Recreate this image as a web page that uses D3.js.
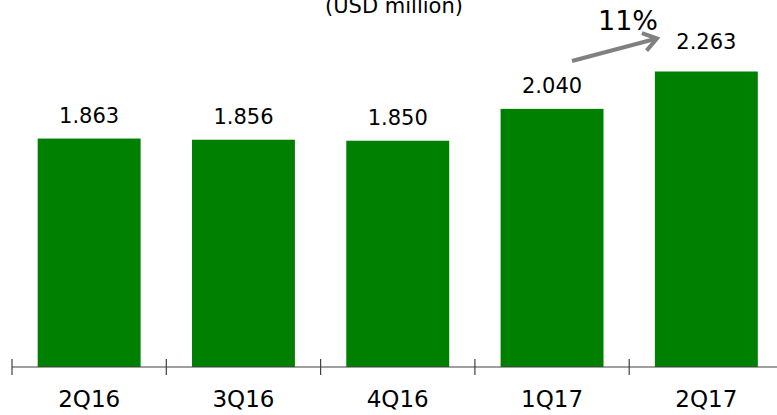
<!DOCTYPE html>
<html>
<head>
<meta charset="utf-8">
<script src="https://cdn.jsdelivr.net/npm/d3@7"></script>
<style>
html,body{margin:0;padding:0;background:#fff;}
svg{display:block;font-family:"DejaVu Sans",Verdana,sans-serif;}
</style>
</head>
<body>
<svg id="chart" width="777" height="415"></svg>
<script>
const categories = ["2Q16", "3Q16", "4Q16", "1Q17", "2Q17"];
const values = [1.863, 1.856, 1.850, 2.040, 2.263];
const valueLabels = ["1.863", "1.856", "1.850", "2.040", "2.263"];
const subtitle = "(USD million)";
const growthLabel = "11%";

const svg = d3.select("#chart");
const W = 777, H = 415;
const baseY = 367;

const x = d3.scaleBand().domain(categories).range([12, 783.5]).paddingInner(0.333).paddingOuter(0.1665);
const xTicks = d3.scaleBand().domain(categories).range([12, 783.5]);
const y = d3.scaleLinear().domain([0.5, 2.263]).range([baseY, 71.5]);

// bars
svg.append("g").selectAll("rect").data(values).join("rect")
  .attr("x", (d, i) => x(categories[i]))
  .attr("width", x.bandwidth())
  .attr("y", d => y(d))
  .attr("height", d => baseY - y(d))
  .attr("fill", "#008000");

// axis
const axisG = svg.append("g");
axisG.append("line").attr("x1", 12).attr("x2", W).attr("y1", baseY).attr("y2", baseY)
  .attr("stroke", "#404040").attr("stroke-width", 1.2);
axisG.selectAll("line.tick").data(categories).join("line").attr("class", "tick")
  .attr("x1", d => xTicks(d)).attr("x2", d => xTicks(d))
  .attr("y1", baseY - 8).attr("y2", baseY + 8)
  .attr("stroke", "#404040").attr("stroke-width", 1.2);
axisG.selectAll("text").data(categories).join("text")
  .attr("x", d => x(d) + x.bandwidth() / 2)
  .attr("y", 407)
  .attr("text-anchor", "middle")
  .attr("font-size", 23)
  .attr("fill", "#000")
  .text(d => d);

// value labels
svg.append("g").selectAll("text").data(values).join("text")
  .attr("x", (d, i) => x(categories[i]) + x.bandwidth() / 2)
  .attr("y", (d, i) => y(d) - (i === values.length - 1 ? 23 : 16))
  .attr("text-anchor", "middle")
  .attr("font-size", 21)
  .attr("fill", "#000")
  .text((d, i) => valueLabels[i]);

// subtitle
svg.append("text").attr("x", 394).attr("y", 13).attr("text-anchor", "middle")
  .attr("font-size", 21).attr("fill", "#000").text(subtitle);

// growth arrow
const ax1 = 572, ay1 = 61, ax2 = 657, ay2 = 38.5;
svg.append("line").attr("x1", ax1).attr("y1", ay1).attr("x2", ax2 - 2).attr("y2", ay2 + 0.5)
  .attr("stroke", "#808080").attr("stroke-width", 4);
const ang = Math.atan2(ay2 - ay1, ax2 - ax1);
const hl = 16, ha = 0.6;
const p1 = [ax2 - hl * Math.cos(ang - ha), ay2 - hl * Math.sin(ang - ha)];
const p2 = [ax2 - hl * Math.cos(ang + ha), ay2 - hl * Math.sin(ang + ha)];
svg.append("path").attr("d", `M${p1[0]},${p1[1]}L${ax2},${ay2}L${p2[0]},${p2[1]}`)
  .attr("fill", "none").attr("stroke", "#808080").attr("stroke-width", 4)
  .attr("stroke-linejoin", "miter");
svg.append("text").attr("x", 628).attr("y", 30).attr("text-anchor", "middle")
  .attr("font-size", 27).attr("fill", "#000").text(growthLabel);
</script>
</body>
</html>
